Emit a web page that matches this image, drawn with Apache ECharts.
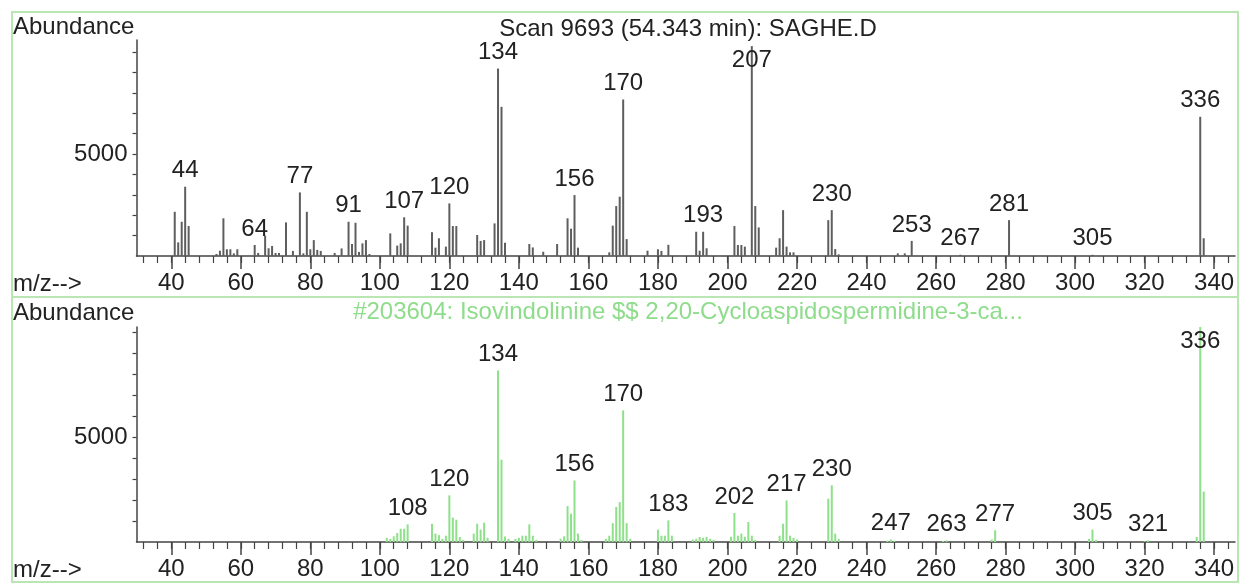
<!DOCTYPE html>
<html>
<head>
<meta charset="utf-8">
<script src="https://cdn.jsdelivr.net/npm/echarts@6/dist/echarts.min.js"></script>
<style>
html,body{margin:0;padding:0;background:#fff;}
#chart{width:1240px;height:584px;}
</style>
</head>
<body>
<div id="chart"></div>
<script>
// ---------- DATA ----------
const topTitle = 'Scan 9693 (54.343 min): SAGHE.D';
const bottomTitle = '#203604: Isovindolinine $$ 2,20-Cycloaspidospermidine-3-ca...';

const topMz = [41,42,43,44,45,53,54,55,56,57,58,59,64,65,67,68,69,70,71,73,75,77,78,79,80,81,82,83,87,89,91,92,93,94,95,96,97,
  103,105,106,107,108,115,116,117,119,120,121,122,128,129,130,133,134,135,136,143,144,147,151,154,155,156,157,
  166,167,168,169,170,171,177,180,181,183,191,192,193,194,202,203,204,205,207,208,209,214,215,216,217,218,219,
  229,230,231,232,249,251,253,267,281,305,336,337];
const topAb = [2170,670,1680,3400,1470,100,260,1850,330,330,130,330,540,150,1000,380,490,150,150,1650,250,3120,130,2170,330,780,300,250,150,370,1680,590,1630,200,620,780,100,
  1110,510,620,1900,1490,1170,410,870,460,2580,1470,1470,1030,740,780,1600,9200,7320,650,590,420,210,590,1850,1340,2990,410,
  180,1490,2450,2910,7680,830,260,330,250,550,1190,260,1190,380,1470,540,540,460,10300,2450,1400,410,870,2250,460,180,180,
  1760,2250,340,80,130,130,740,60,1760,60,6830,870];
const topLabels = [44,64,77,91,107,120,134,156,170,193,207,230,253,267,281,305,336];

const botMz = [102,103,104,105,106,107,108,115,116,117,118,119,120,121,122,123,124,127,128,129,130,131,134,135,136,137,
  139,140,141,142,143,144,145,152,153,154,155,156,157,158,165,166,167,168,169,170,171,172,180,181,182,183,184,
  190,191,192,193,194,195,196,201,202,203,204,205,206,207,208,215,216,217,218,219,220,229,230,231,232,
  246,247,248,262,263,276,277,304,305,306,320,321,335,336,337];
const botAb = [200,150,270,430,630,630,840,870,400,330,150,300,2220,1160,1060,240,100,400,870,590,920,200,8170,3920,260,150,
  150,200,300,300,840,300,100,160,270,1710,1350,2930,400,100,150,300,900,1670,1900,6270,900,150,590,300,300,1030,300,
  120,150,240,200,240,150,100,250,1380,300,400,250,950,300,100,300,870,1980,300,200,120,2060,2700,400,150,
  60,120,60,50,80,120,560,150,590,100,40,80,240,10240,2400];
const botLabels = [108,120,134,156,170,183,202,217,230,247,263,277,305,321,336];

const xMin = 30, xMax = 346;
const majorTicks = [40,60,80,100,120,140,160,180,200,220,240,260,280,300,320,340];
const minorTicks = [];
for (let v = 32; v <= 344; v += 4) minorTicks.push(v);
const yTicksTop = [1000,2000,3000,4000,5000,6000,7000,8000,9000,10000];
const yTicksBot = [1000,2000,3000,4000,5000,6000,7000,8000,9000,10000];
const yLabelVals = [5000];

// ---------- STYLE ----------
const FONT = "'Liberation Sans', Arial, sans-serif";
const FS = 24;
const TXT = '#222';
const AX = '#444';
const topColor = '#5e5e5e';
const botColor = '#8ee08a';
const borderColor = '#b9e6b2';
const green = '#8fdc8c';

function buildData(mz, ab, labels) {
  const maxV = Math.max(...ab);
  return mz.map((m, i) => {
    const item = { value: [m, ab[i]] };
    if (labels.includes(m)) {
      item.label = {
        show: true,
        position: ab[i] === maxV ? 'insideTop' : 'top',
        distance: ab[i] === maxV ? 2 : 4,
        formatter: String(m),
        color: TXT,
        fontSize: FS,
        fontFamily: FONT
      };
    }
    return item;
  });
}

const grids = [
  { left: 136.5, top: 40, width: 1098.5, height: 216 },
  { left: 136.5, top: 327, width: 1098.5, height: 215 }
];

function xAxes(gi) {
  return [
    {
      type: 'value', gridIndex: gi, min: xMin, max: xMax, position: 'bottom',
      axisLine: { show: true, onZero: false, lineStyle: { color: AX, width: 1.5 } },
      axisTick: { show: true, customValues: majorTicks, length: 13, lineStyle: { color: AX, width: 1.5 } },
      axisLabel: { show: true, customValues: majorTicks, margin: 15, color: TXT, fontSize: FS, fontFamily: FONT,
        formatter: v => String(v) },
      splitLine: { show: false }
    },
    {
      type: 'value', gridIndex: gi, min: xMin, max: xMax, position: 'bottom',
      axisLine: { show: false, onZero: false },
      axisTick: { show: true, customValues: minorTicks, length: 7, lineStyle: { color: AX, width: 1.2 } },
      axisLabel: { show: false },
      splitLine: { show: false }
    }
  ];
}

function yAxis(gi, max, ticks) {
  return {
    type: 'value', gridIndex: gi, min: 0, max: max,
    axisLine: { show: true, lineStyle: { color: AX, width: 1.5 } },
    axisTick: { show: true, customValues: ticks, length: 4, lineStyle: { color: AX, width: 1.2 } },
    axisLabel: { show: true, customValues: yLabelVals, margin: 9, color: TXT, fontSize: FS, fontFamily: FONT,
      formatter: v => String(v) },
    splitLine: { show: false }
  };
}

const chart = echarts.init(document.getElementById('chart'), null, { renderer: 'canvas' });
chart.setOption({
  animation: false,
  backgroundColor: '#fff',
  grid: grids,
  xAxis: [...xAxes(0), ...xAxes(1)],
  yAxis: [yAxis(0, 10600, yTicksTop), yAxis(1, 10240, yTicksBot)],
  series: [
    {
      type: 'bar', xAxisIndex: 0, yAxisIndex: 0, barWidth: 2,
      itemStyle: { color: topColor },
      data: buildData(topMz, topAb, topLabels)
    },
    {
      type: 'bar', xAxisIndex: 2, yAxisIndex: 1, barWidth: 2,
      itemStyle: { color: botColor },
      data: buildData(botMz, botAb, botLabels)
    }
  ],
  graphic: [
    { type: 'rect', shape: { x: 12, y: 12, width: 1226, height: 285 }, style: { fill: 'none', stroke: borderColor, lineWidth: 2 }, z: -1 },
    { type: 'rect', shape: { x: 12, y: 297, width: 1226, height: 285 }, style: { fill: 'none', stroke: borderColor, lineWidth: 2 }, z: -1 },
    { type: 'text', left: 13, top: 15, style: { text: 'Abundance', fill: TXT, font: FS + 'px ' + FONT } },
    { type: 'text', left: 13, top: 272, style: { text: 'm/z-->', fill: TXT, font: FS + 'px ' + FONT } },
    { type: 'text', left: 13, top: 301, style: { text: 'Abundance', fill: TXT, font: FS + 'px ' + FONT } },
    { type: 'text', left: 13, top: 558, style: { text: 'm/z-->', fill: TXT, font: FS + 'px ' + FONT } },
    { type: 'text', x: 688, y: 29, style: { text: topTitle, fill: TXT, font: FS + 'px ' + FONT, textAlign: 'center', textVerticalAlign: 'middle' } },
    { type: 'text', x: 688, y: 312, style: { text: bottomTitle, fill: green, font: FS + 'px ' + FONT, textAlign: 'center', textVerticalAlign: 'middle' } }
  ]
});
</script>
</body>
</html>
